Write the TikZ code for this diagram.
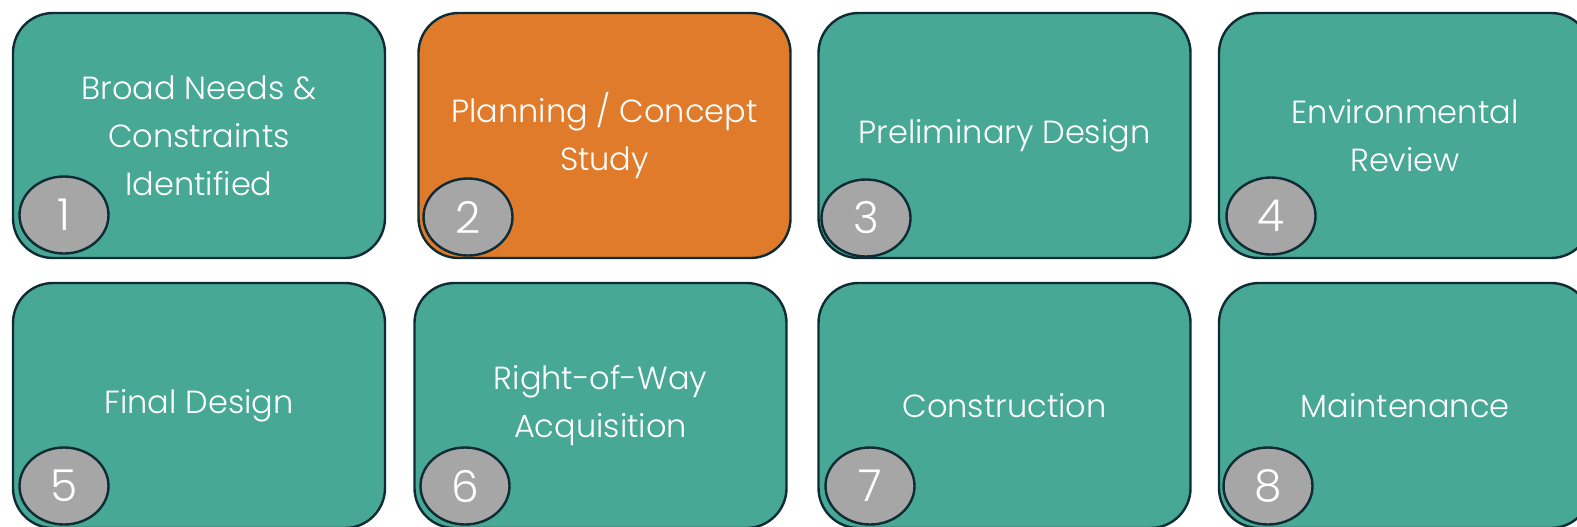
\documentclass[tikz,border=0pt]{standalone}
\usepackage{fontspec}
\setmainfont{Poppins}[UprightFont={* Light}]
\usetikzlibrary{shapes.geometric}
\definecolor{tealbox}{HTML}{48A896}
\definecolor{orangebox}{HTML}{DF7B2A}
\definecolor{edgecol}{HTML}{0F2B33}
\definecolor{badgecol}{HTML}{A6A6A6}
\tikzset{
  stepbox/.style={draw=edgecol, line width=1.2pt, fill=tealbox, rounded corners=20pt,
    minimum width=186pt, minimum height=122.5pt, inner sep=0pt,
    text=white, align=center, font=\fontsize{16}{24}\selectfont},
  hotbox/.style={stepbox, fill=orangebox},
  badge/.style={ellipse, draw=edgecol, line width=1.2pt, fill=badgecol,
    minimum width=44.5pt, minimum height=38.5pt, inner sep=0pt,
    text=white, font=\fontsize{22}{22}\selectfont}
}
\begin{document}
\begin{tikzpicture}[x=0.5pt, y=-0.5pt]
\useasboundingbox (0,0) rectangle (1577,526);
\clip (0,0) rectangle (1577,526);
\node[stepbox] (b1) at (199,135.5) {Broad Needs \&\\Constraints\\Identified};
\node[hotbox]  (b2) at (604.5,135.5) {Planning / Concept\\Study};
\node[stepbox] (b3) at (1004.5,135.5) {Preliminary Design};
\node[stepbox] (b4) at (1405,135.5) {Environmental\\Review};
\node[stepbox] (b5) at (199,405.5) {Final Design};
\node[stepbox] (b6) at (600.5,405.5) {Right-of-Way\\Acquisition};
\node[stepbox] (b7) at (1004.5,405.5) {Construction};
\node[stepbox] (b8) at (1405,405.5) {Maintenance};
\node[badge] (n1) at (64,215) {1};
\node[badge] (n2) at (468,217) {2};
\node[badge] (n3) at (866,218) {3};
\node[badge] (n4) at (1271,216) {4};
\node[badge] (n5) at (64,486) {5};
\node[badge] (n6) at (465,486) {6};
\node[badge] (n7) at (870,486) {7};
\node[badge] (n8) at (1268,486) {8};
\end{tikzpicture}
\end{document}
